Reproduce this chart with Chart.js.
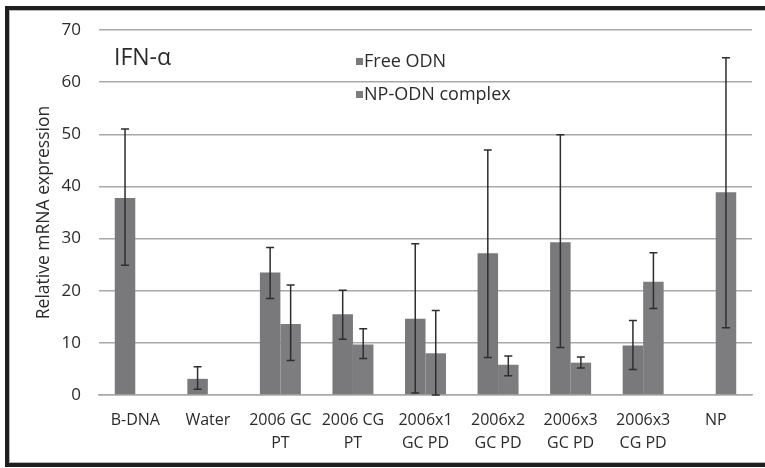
<!DOCTYPE html>
<html>
<head>
<meta charset="utf-8">
<script src="https://cdn.jsdelivr.net/npm/chart.js@4/dist/chart.umd.min.js"></script>
<style>
    body { margin: 0; background: #fff; }
    .wrap { position: relative; width: 765px; height: 468px; overflow: hidden; }
    .frame {
        position: absolute; left: 5px; top: 6px; width: 780px; height: 453px;
        border-left: 4px solid #1e1e1e; border-top: 4px solid #1e1e1e; border-bottom: 4px solid #1e1e1e;
        box-shadow: inset 1px 1px 0 #b8b8b8, inset 0 -1px 0 #b8b8b8;
    }
    canvas { position: absolute; left: 0; top: 0; }
</style>
</head>
<body>
<div class="wrap">
    <div class="frame"></div>
    <canvas id="ifn-chart" width="765" height="468"></canvas>
</div>
<script>
const categories = [
    ['B-DNA'], ['Water'], ['2006 GC', 'PT'], ['2006 CG', 'PT'], ['2006x1', 'GC PD'],
    ['2006x2', 'GC PD'], ['2006x3', 'GC PD'], ['2006x3', 'CG PD'], ['NP']
];
const y_ticks = [0, 10, 20, 30, 40, 50, 60, 70];

const free_odn = [37.8, 3.1, 23.5, 15.5, 14.6, 27.2, 29.3, 9.5, null];
const free_low = [24.9, 1.1, 18.5, 10.7, 0.4, 7.2, 9.1, 4.9, null];
const free_high = [51.0, 5.4, 28.3, 20.1, 29.0, 47.0, 49.9, 14.3, null];

const np_odn = [null, null, 13.6, 9.7, 8.0, 5.8, 6.2, 21.7, 38.9];
const np_low = [null, null, 6.6, 7.0, 0, 3.7, 5.2, 16.6, 12.9];
const np_high = [null, null, 21.1, 12.7, 16.2, 7.5, 7.3, 27.3, 64.7];

const font_family = "'Open Sans', 'DejaVu Sans', sans-serif";
const text_color = '#2b2b2b';

const errorBars = {
    id: 'errorBars',
    afterDatasetsDraw(chart) {
        const ctx = chart.ctx;
        const y = chart.scales.y;
        const ranges = [[free_low, free_high], [np_low, np_high]];
        ctx.save();
        ctx.strokeStyle = '#2e2e2e';
        ctx.lineWidth = 1.5;
        ranges.forEach(([low, high], di) => {
            const meta = chart.getDatasetMeta(di);
            meta.data.forEach((bar, i) => {
                if (low[i] == null || high[i] == null) return;
                const x = bar.x;
                const y1 = y.getPixelForValue(low[i]);
                const y2 = y.getPixelForValue(high[i]);
                ctx.beginPath();
                ctx.moveTo(x, y1); ctx.lineTo(x, y2);
                ctx.moveTo(x - 4, y1); ctx.lineTo(x + 4, y1);
                ctx.moveTo(x - 4, y2); ctx.lineTo(x + 4, y2);
                ctx.stroke();
            });
        });
        ctx.restore();
    }
};

const innerText = {
    id: 'innerText',
    afterDraw(chart) {
        const ctx = chart.ctx;
        ctx.save();
        ctx.fillStyle = text_color;
        ctx.textBaseline = 'middle';
        ctx.font = `23px ${font_family}`;
        ctx.fillText('IFN-α', 114, 58);

        ctx.font = `18px ${font_family}`;
        const rows = [62, 95];
        chart.data.datasets.forEach((ds, i) => {
            ctx.fillStyle = ds.backgroundColor;
            ctx.fillRect(356, rows[i] - 4, 7, 7);
            ctx.fillStyle = text_color;
            ctx.fillText(ds.label, 364, rows[i]);
        });
        ctx.restore();
    }
};

(function () {
    const canvas = document.getElementById('ifn-chart');

    const data = {
        labels: categories,
        datasets: [{
            label: 'Free ODN',
            data: free_odn,
            backgroundColor: '#79797b',
            categoryPercentage: 0.565,
            barPercentage: 1.0,
        }, {
            label: 'NP-ODN complex',
            data: np_odn,
            backgroundColor: '#7d7d7f',
            categoryPercentage: 0.565,
            barPercentage: 1.0,
        }]
    };

    const config = {
        type: 'bar',
        data: data,
        options: {
            responsive: false,
            animation: false,
            layout: { padding: { left: 0, top: 30, right: 13, bottom: 0 } },
            plugins: {
                legend: { display: false },
                tooltip: { enabled: false },
            },
            scales: {
                x: {
                    grid: { display: false, drawTicks: false },
                    border: { color: '#a8a8a8', width: 1.5 },
                    ticks: {
                        color: text_color,
                        font: { family: font_family, size: 16, lineHeight: 1.42 },
                        padding: 14,
                        autoSkip: false,
                        maxRotation: 0,
                    },
                    afterFit: (s) => { s.height = 73; },
                },
                y: {
                    min: 0,
                    max: 70,
                    afterBuildTicks: (s) => { s.ticks = y_ticks.map(v => ({ value: v })); },
                    grid: { color: '#a8a8a8', lineWidth: 1.5, drawTicks: false },
                    border: { display: false },
                    ticks: {
                        color: text_color,
                        font: { family: font_family, size: 17 },
                        padding: 18,
                    },
                    title: {
                        display: true,
                        text: 'Relative mRNA expression',
                        color: text_color,
                        font: { family: font_family, size: 17.5 },
                        padding: { top: 34, bottom: 0 },
                    },
                    afterFit: (s) => { s.width = 99; },
                }
            }
        },
        plugins: [errorBars, innerText],
    };

    new Chart(canvas, config);
})();
</script>
</body>
</html>
